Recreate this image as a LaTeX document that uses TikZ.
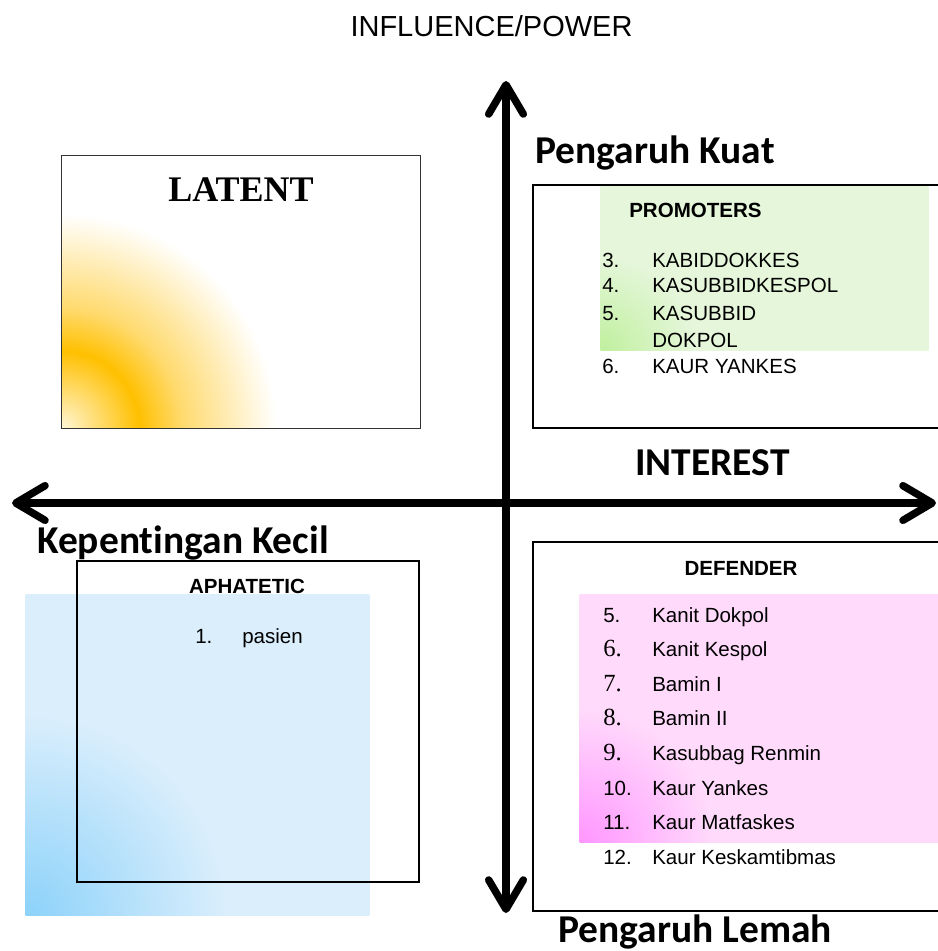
\documentclass[tikz,border=0pt]{standalone}
\usepackage{fontspec}
\setmainfont{Liberation Sans}
\newfontfamily\calibrifont[Ligatures=NoCommon]{Carlito}
\newfontfamily\timesfont{Liberation Serif}
\usetikzlibrary{positioning,arrows.meta}
\definecolor{LatentOrange}{RGB}{255,192,0}
\definecolor{LatentCream}{RGB}{255,246,214}
\definecolor{LatentSoft}{RGB}{255,218,110}
\definecolor{PromoGreen}{RGB}{229,246,218}
\definecolor{PromoGreenDeep}{RGB}{192,240,158}
\definecolor{DefendPink}{RGB}{255,218,251}
\definecolor{DefendPinkDeep}{RGB}{255,150,255}
\definecolor{ApathBlue}{RGB}{218,238,252}
\definecolor{ApathBlueDeep}{RGB}{140,210,250}
% glows fade out at 5bp, i.e. at a fifth of the shaded square's half side
\pgfdeclareradialshading{latentglow}{\pgfpointorigin}{color(0bp)=(LatentCream); color(1.8bp)=(LatentOrange); color(2.8bp)=(LatentSoft); color(5bp)=(white); color(50bp)=(white)}
\pgfdeclareradialshading{promoglow}{\pgfpointorigin}{color(0bp)=(PromoGreenDeep); color(5bp)=(PromoGreen); color(50bp)=(PromoGreen)}
\pgfdeclareradialshading{defendglow}{\pgfpointorigin}{color(0bp)=(DefendPinkDeep); color(5bp)=(DefendPink); color(50bp)=(DefendPink)}
\pgfdeclareradialshading{apathglow}{\pgfpointorigin}{color(0bp)=(ApathBlueDeep); color(5bp)=(ApathBlue); color(50bp)=(ApathBlue)}
% glow from the lower left corner of a panel, clipped to it
\newcommand\cornerglow[3]{%
  \begin{scope}
    \clip (#1.south west) rectangle (#1.north east);
    \shade[shading=#3] ([shift={(-#2*5,-#2*5)}]#1.south west) rectangle ([shift={(#2*5,#2*5)}]#1.south west);
  \end{scope}}
\tikzset{
  axisarrow/.style={{Straight Barb[length=22pt,width=26pt,round]}-{Straight Barb[length=22pt,width=26pt,round]},line width=5.6pt},
  quadbox/.style={draw=black,line width=1pt,inner sep=0pt},
  tintbox/.style={inner sep=0pt},
  corner/.style={font=\calibrifont\bfseries\fontsize{29.6}{34}\selectfont,inner sep=0pt,anchor=base west},
  headsans/.style={font=\bfseries\fontsize{15.4}{18}\selectfont,inner sep=0pt,anchor=base},
  itemtext/.style={font=\fontsize{15.4}{18}\selectfont,inner sep=0pt,anchor=base west},
  sansnum/.style={itemtext},
  serifnum/.style={font=\timesfont\fontsize{18.5}{22}\selectfont,inner sep=0pt,anchor=base west}
}
\begin{document}
\begin{tikzpicture}[x=0.75pt,y=-0.75pt]
  \useasboundingbox (0,0) rectangle (938,951);
  % tinted panels
  \node[tintbox,fill=ApathBlue,minimum width=257.25pt,minimum height=240pt] (apathtint) at (197.5,755) {};
  \cornerglow{apathtint}{150pt}{apathglow}
  \node[tintbox,fill=white,minimum width=268.5pt,minimum height=204pt] (latent) at (241,292) {};
  \cornerglow{latent}{161pt}{latentglow}
  \draw[black!80,line width=1pt] (latent.south west) rectangle (latent.north east);
  \node[quadbox,line width=1.5pt,fill=white,minimum width=311.25pt,minimum height=182.25pt] (promobox) at (740.5,306.5) {};
  \node[tintbox,fill=PromoGreen,minimum width=245.25pt,minimum height=122.25pt] (promotint) at (764.5,268.5) {};
  \cornerglow{promotint}{70pt}{promoglow}
  \node[quadbox,minimum width=311.25pt,minimum height=276.75pt] (defendbox) at (740.5,726.5) {};
  \node[tintbox,fill=DefendPink,minimum width=276pt,minimum height=185.25pt] (defendtint) at (764,718.5) {};
  \cornerglow{defendtint}{100pt}{defendglow}
  \node[quadbox,minimum width=256.5pt,minimum height=240.75pt] (apathbox) at (248,721.5) {};

  % axes
  \coordinate (axtop) at (506,81);
  \coordinate (axbottom) at (506,913);
  \coordinate (axleft) at (12,503);
  \coordinate (axright) at (936,503);
  \draw[axisarrow] (axbottom) -- (axtop);
  \draw[axisarrow] (axleft) -- (axright);

  % axis labels
  \node[font=\fontsize{21.75}{26}\selectfont,inner sep=0pt,anchor=base] (power) at (491.5,36) {INFLUENCE/POWER};
  \node[corner] (kuat) at (535,163) {Pengaruh Kuat};
  \node[corner] (interest) at (635,475) {INTEREST};
  \node[corner] (kecil) at (37,553) {Kepentingan Kecil};
  \node[corner] (lemah) at (558,942) {Pengaruh Lemah};

  % quadrant titles
  \node[font=\timesfont\bfseries\fontsize{27}{32}\selectfont,inner sep=0pt,anchor=base] (latentlabel) at (241,201) {LATENT};
  \node[headsans,anchor=base west] (promolabel) at (629,217) {PROMOTERS};
  \node[headsans] (defendlabel) at (741,575) {DEFENDER};
  \node[headsans] (apathlabel) at (247,593) {APHATETIC};

  % promoters
  \foreach \num/\name/\yy [count=\k] in {3./KABIDDOKKES/267,4./KASUBBIDKESPOL/292,5./KASUBBID/320,6./KAUR YANKES/373} {
    \node[itemtext] (promonum\k) at (602,\yy) {\num};
    \node[itemtext] (promoitem\k) at (652,\yy) {\name};
  }
  \node[itemtext] (promoitemb) at (652,347) {DOKPOL};

  % defender
  \foreach \num/\name/\numstyle [count=\k] in {5./Kanit Dokpol/sansnum,6./Kanit Kespol/serifnum,7./Bamin I/serifnum,8./Bamin II/serifnum,9./Kasubbag Renmin/serifnum,10./Kaur Yankes/sansnum,11./Kaur Matfaskes/sansnum,12./Kaur Keskamtibmas/sansnum} {
    \node[\numstyle] (defnum\k) at (603,{622+34.6*(\k-1)}) {\num};
    \node[itemtext] (defitem\k) at (652,{622+34.6*(\k-1)}) {\name};
  }

  % aphatetic
  \node[itemtext] (apathnum) at (195,643) {1.};
  \node[itemtext] (apathitem) at (242,643) {pasien};
\end{tikzpicture}
\end{document}
